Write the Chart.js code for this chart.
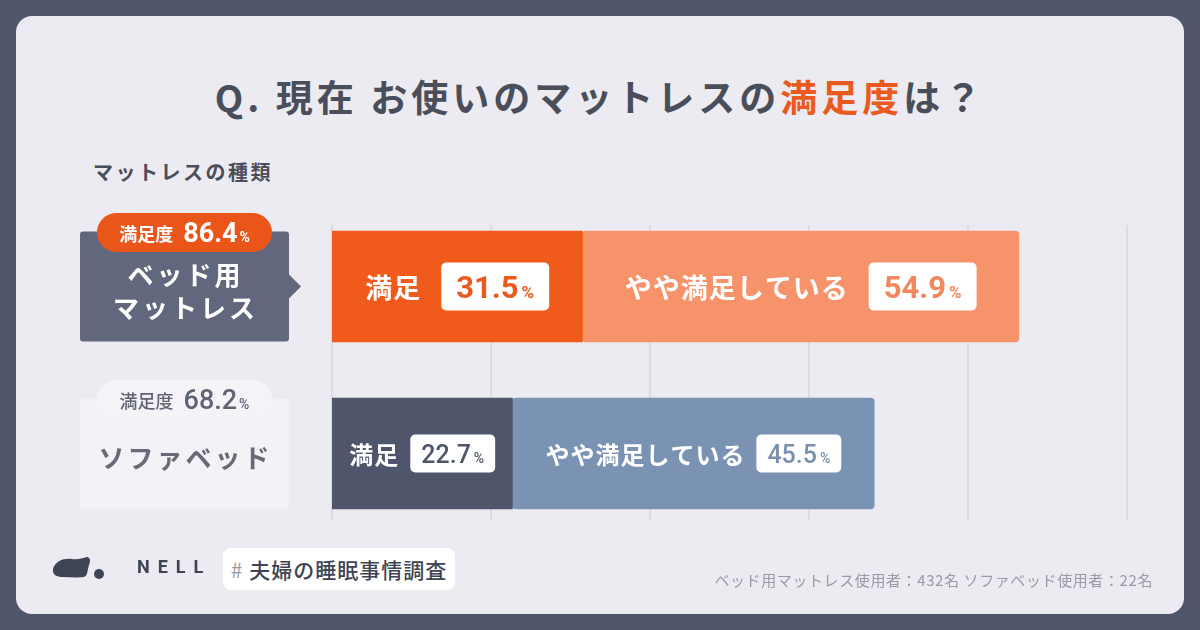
<!DOCTYPE html>
<html lang="ja">
<head>
<meta charset="utf-8">
<script src="https://cdn.jsdelivr.net/npm/chart.js@4/dist/chart.umd.min.js"></script>
<style>
    html, body { margin: 0; padding: 0; }
    body {
        width: 1200px; height: 630px; background: #4f566b; position: relative; overflow: hidden;
        font-family: "Noto Sans CJK JP", "Noto Sans", sans-serif;
    }
    #card {
        position: absolute; left: 16px; top: 16px; width: 1168px; height: 598px;
        background: #ecebf1; border-radius: 16px;
    }
    #title {
        position: absolute; left: 0; width: 1200px; top: 69px; text-align: center;
        font-size: 37px; font-weight: 700; color: #4a4d5a; letter-spacing: 4px;
    }
    #title span { color: #ea5a1e; }
    #axisTitle {
        position: absolute; left: 93px; top: 157px; font-size: 20px; font-weight: 700; color: #4a4d5a;
        letter-spacing: 2.5px;
    }
    #chart { position: absolute; left: 0; top: 0; }
    #logo { position: absolute; left: 50px; top: 555px; }
    #nell {
        position: absolute; left: 137px; top: 556px; font-family: Roboto, sans-serif; font-weight: 700;
        font-size: 18px; color: #3e4453; letter-spacing: 8px;
    }
    #tag {
        position: absolute; left: 223px; top: 548px; width: 232px; height: 42px; background: #ffffff;
        border-radius: 8px; font-size: 21px; font-weight: 500; color: #3e4453; line-height: 42px;
        text-align: center; letter-spacing: 1px;
    }
    #tag b { color: #9a9ba6; font-weight: 400; }
    #note {
        position: absolute; right: 47px; top: 569px; font-size: 15px; color: #9a9aa6; letter-spacing: 0.6px;
    }
</style>
</head>
<body>
<div id="card"></div>
<div id="title">Q. 現在 お使いのマットレスの<span>満足度</span>は？</div>
<div id="axisTitle">マットレスの種類</div>
<canvas id="chart" width="1200" height="630"></canvas>
<svg id="logo" width="62" height="28" viewBox="0 0 62 28">
    <path d="M3 14 C5 6 14 3 22 4 C28 5 32 3 37 2 C40 2 41 6 39 10 C37 16 38 20 34 22 C28 23 20 22 13 22 C7 22 2 20 3 14 Z" fill="#3e4556"/>
    <circle cx="49" cy="19" r="5" fill="#3e4556"/>
</svg>
<div id="nell">NELL</div>
<div id="tag"><b>#</b> 夫婦の睡眠事情調査</div>
<div id="note">ベッド用マットレス使用者：432名 ソファベッド使用者：22名</div>

<script>
const categories = [["ベッド用", "マットレス"], ["ソファベッド"]];
const seriesNames = ["満足", "やや満足している"];
const satisfied = [31.5, 22.7];
const somewhatSatisfied = [54.9, 45.5];
const totalSatisfaction = [86.4, 68.2];
const xTicks = [0, 20, 40, 60, 80, 100];

const JP = '"Noto Sans CJK JP", "Noto Sans", sans-serif';
const NUM = 'Roboto, "Noto Sans", sans-serif';

// bar colours per category (row 0 = orange, row 1 = slate)
const segColors = [
    ["#f05a1a", "#4f566b"],
    ["#f7936b", "#7b93b2"]
];
const valueColors = [
    ["#ea5a1e", "#4f566b"],
    ["#f0875d", "#7a8fae"]
];

function valueParts(ctx, value, numFont, pctFont) {
    ctx.font = numFont;
    const w1 = ctx.measureText(value.toFixed(1)).width;
    ctx.font = pctFont;
    const w2 = ctx.measureText("%").width;
    return { w1, w2 };
}

const gridLines = {
    id: "gridLines",
    beforeDatasetsDraw(chart) {
        const ctx = chart.ctx;
        const x = chart.scales.x;
        const a = chart.chartArea;
        ctx.save();
        ctx.strokeStyle = "#dcdbe3";
        ctx.lineWidth = 2;
        xTicks.forEach(v => {
            const px = x.getPixelForValue(v);
            ctx.beginPath();
            ctx.moveTo(px, a.top + 22);
            ctx.lineTo(px, a.bottom - 17);
            ctx.stroke();
        });
        ctx.restore();
    }
};

const barLabels = {
    id: "barLabels",
    afterDatasetsDraw(chart) {
        const ctx = chart.ctx;
        chart.data.datasets.forEach((ds, di) => {
            chart.getDatasetMeta(di).data.forEach((bar, i) => {
                const big = i === 0;
                const left = Math.min(bar.x, bar.base);
                const right = Math.max(bar.x, bar.base);
                const cx = (left + right) / 2;
                const cy = bar.y;
                const labelFont = (big ? "bold 27px " : "bold 24px ") + JP;
                const numFont = (big ? "bold 31px " : "500 25px ") + NUM;
                const pctFont = (big ? "bold 17px " : "500 14px ") + NUM;
                const gap = big ? 20 : 11;
                const padX = big ? 15 : 11;
                const boxH = big ? 48 : 38;

                ctx.save();
                ctx.letterSpacing = "1px";
                ctx.font = labelFont;
                const lw = ctx.measureText(seriesNames[di]).width;
                ctx.letterSpacing = "0px";
                const vp = valueParts(ctx, ds.data[i], numFont, pctFont);
                const boxW = vp.w1 + vp.w2 + 3 + padX * 2;
                const total = lw + gap + boxW;
                let x0 = cx - total / 2;

                ctx.textBaseline = "middle";
                ctx.fillStyle = "#ffffff";
                ctx.letterSpacing = "1px";
                ctx.font = labelFont;
                ctx.fillText(seriesNames[di], x0, cy + 1);
                ctx.letterSpacing = "0px";

                const bx = x0 + lw + gap;
                ctx.beginPath();
                ctx.roundRect(bx, cy - boxH / 2, boxW, boxH, 5);
                ctx.fill();

                ctx.fillStyle = valueColors[di][i];
                ctx.textBaseline = "alphabetic";
                ctx.font = numFont;
                const base = cy + (big ? 11 : 9);
                ctx.fillText(ds.data[i].toFixed(1), bx + padX, base);
                ctx.font = pctFont;
                ctx.fillText("%", bx + padX + vp.w1 + 3, base);
                ctx.restore();
            });
        });
    }
};

const categoryBoxes = {
    id: "categoryBoxes",
    afterDraw(chart) {
        const ctx = chart.ctx;
        const y = chart.scales.y;
        const boxL = 80, boxR = 289, boxH = 110;
        const cxBox = (boxL + boxR) / 2;
        categories.forEach((lines, i) => {
            const cy = y.getPixelForValue(i);
            const top = cy - boxH / 2;
            const dark = i === 0;
            ctx.save();
            // box
            ctx.fillStyle = dark ? "#61677c" : "#f4f2f7";
            ctx.beginPath();
            ctx.roundRect(boxL, top, boxR - boxL, boxH, 3);
            ctx.fill();
            if (dark) {
                ctx.beginPath();
                ctx.moveTo(boxR, cy - 12);
                ctx.lineTo(boxR + 12, cy);
                ctx.lineTo(boxR, cy + 12);
                ctx.closePath();
                ctx.fill();
            }
            // label
            ctx.fillStyle = dark ? "#ffffff" : "#686a78";
            ctx.font = "bold 26px " + JP;
            ctx.letterSpacing = "3px";
            ctx.textAlign = "center";
            ctx.textBaseline = "middle";
            const lh = 33;
            const startY = cy + 5 - (lines.length - 1) * lh / 2;
            lines.forEach((t, k) => ctx.fillText(t, cxBox + 1, startY + k * lh));
            ctx.letterSpacing = "0px";

            // badge with total satisfaction
            const badgeW = 175, badgeH = 39;
            const by = top + 1 - badgeH / 2;
            ctx.fillStyle = dark ? "#ea561a" : "#f5f3f8";
            ctx.beginPath();
            ctx.roundRect(cxBox - badgeW / 2, by, badgeW, badgeH, 20);
            ctx.fill();

            const txtColor = dark ? "#ffffff" : "#5f6374";
            const f1 = (dark ? "bold 18px " : "500 18px ") + JP;
            const f2 = (dark ? "bold 27px " : "500 27px ") + NUM;
            const f3 = (dark ? "bold 14px " : "500 14px ") + NUM;
            const num = totalSatisfaction[i].toFixed(1);
            ctx.textAlign = "left";
            ctx.textBaseline = "alphabetic";
            ctx.font = f1; const w1 = ctx.measureText("満足度").width;
            ctx.font = f2; const w2 = ctx.measureText(num).width;
            ctx.font = f3; const w3 = ctx.measureText("%").width;
            const tw = w1 + 10 + w2 + 2 + w3;
            let tx = cxBox - tw / 2;
            const base = by + badgeH / 2 + 9;
            ctx.fillStyle = txtColor;
            ctx.font = f1; ctx.fillText("満足度", tx, base - 1);
            tx += w1 + 10;
            ctx.font = f2; ctx.fillText(num, tx, base);
            tx += w2 + 2;
            ctx.font = f3; ctx.fillText("%", tx, base);
            ctx.restore();
        });
    }
};

const chart = new Chart(document.getElementById("chart").getContext("2d"), {
    type: "bar",
    data: {
        labels: categories,
        datasets: [
            {
                label: seriesNames[0],
                data: satisfied,
                backgroundColor: segColors[0],
                barThickness: 111,
                borderRadius: 4,
                borderSkipped: false
            },
            {
                label: seriesNames[1],
                data: somewhatSatisfied,
                backgroundColor: segColors[1],
                barThickness: 111,
                borderRadius: 4,
                borderSkipped: false
            }
        ]
    },
    options: {
        indexAxis: "y",
        responsive: false,
        animation: false,
        layout: { padding: { left: 332, right: 73, top: 203, bottom: 93 } },
        plugins: {
            legend: { display: false },
            tooltip: { enabled: false }
        },
        scales: {
            x: { stacked: true, min: 0, max: 100, display: false },
            y: { stacked: true, display: false }
        }
    },
    plugins: [gridLines, barLabels, categoryBoxes]
});
</script>
</body>
</html>
